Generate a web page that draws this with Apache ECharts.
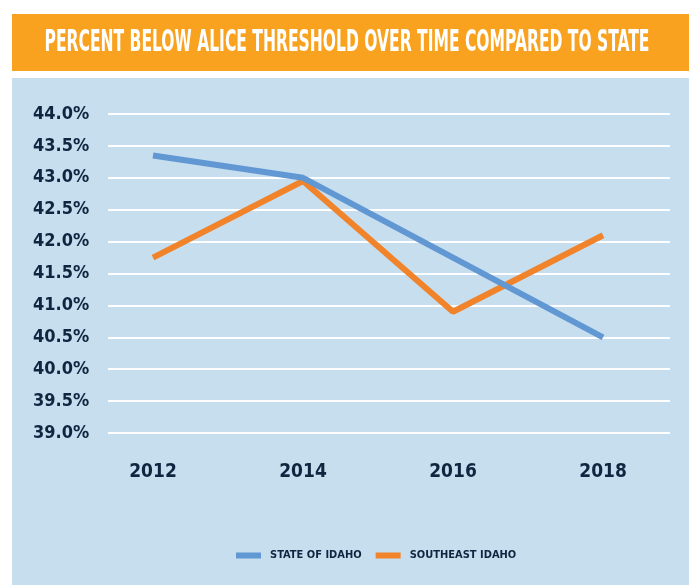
<!DOCTYPE html>
<html>
<head>
<meta charset="utf-8">
<script src="https://cdn.jsdelivr.net/npm/echarts@6/dist/echarts.min.js"></script>
<style>
html,body{margin:0;padding:0;background:#ffffff;}
#chart{width:689px;height:585px;}
</style>
</head>
<body>
<div id="chart"></div>
<script>
var years = [2012, 2014, 2016, 2018];
var stateOfIdaho = [43.35, 43.0, 41.75, 40.5];
var southeastIdaho = [41.75, 42.95, 40.9, 42.1];
var yTicks = [39.0, 39.5, 40.0, 40.5, 41.0, 41.5, 42.0, 42.5, 43.0, 43.5, 44.0];
var seriesNames = ['STATE OF IDAHO', 'SOUTHEAST IDAHO'];
var titleText = 'PERCENT BELOW ALICE THRESHOLD OVER TIME COMPARED TO STATE';

var FONT = '"DejaVu Sans Condensed", "Liberation Sans Narrow", sans-serif';
var NAVY = '#10253f';

function pairs(xs, ys){ return xs.map(function(x,i){ return [x, ys[i]]; }); }

// fit title width (~605px) with horizontal compression
var TITLE_SIZE = 30;
var cv = document.createElement('canvas').getContext('2d');
cv.font = 'bold ' + TITLE_SIZE + 'px ' + FONT;
var titleW = cv.measureText(titleText).width;
var titleScale = Math.min(1, 605 / titleW);

var chart = echarts.init(document.getElementById('chart'));
chart.setOption({
  backgroundColor: '#ffffff',
  animation: false,
  graphic: [
    { type: 'rect', shape: { x: 12, y: 14, width: 677, height: 57 }, style: { fill: '#F9A21F' }, z: -10 },
    { type: 'rect', shape: { x: 12, y: 78, width: 677, height: 507 }, style: { fill: '#C6DEEE' }, z: -10 },
    { type: 'text', x: 347, y: 43, scaleX: titleScale, z: 10,
      style: { text: titleText, fill: '#ffffff', font: 'bold ' + TITLE_SIZE + 'px ' + FONT,
               textAlign: 'center', textVerticalAlign: 'middle' } }
  ],
  legend: {
    data: seriesNames,
    left: 231, top: 545,
    icon: 'rect', itemWidth: 25, itemHeight: 6, itemGap: 14,
    textStyle: { color: NAVY, fontFamily: FONT, fontWeight: 'bold', fontSize: 11, padding: [0,0,0,4] }
  },
  grid: { left: 108, right: 19, top: 114, bottom: 152 },
  xAxis: {
    type: 'value', min: 2011.4, max: 2018.893,
    axisLine: { show: false }, axisTick: { show: false }, splitLine: { show: false },
    axisLabel: {
      customValues: years, margin: 30,
      color: NAVY, fontFamily: FONT, fontWeight: 'bold', fontSize: 19,
      formatter: function(v){ return String(Math.round(v)); }
    }
  },
  yAxis: {
    type: 'value', min: yTicks[0], max: yTicks[yTicks.length-1], interval: 0.5,
    axisLine: { show: false }, axisTick: { show: false },
    splitLine: { lineStyle: { color: '#ffffff', width: 2 } },
    axisLabel: {
      align: 'left', margin: 75, padding: [5,0,0,0],
      color: NAVY, fontFamily: FONT, fontWeight: 'bold', fontSize: 18,
      formatter: function(v){ return v.toFixed(1) + '%'; }
    }
  },
  series: [
    { name: seriesNames[0], type: 'line', data: pairs(years, stateOfIdaho), symbol: 'none', z: 3,
      lineStyle: { color: '#6197D2', width: 6 }, itemStyle: { color: '#6197D2' } },
    { name: seriesNames[1], type: 'line', data: pairs(years, southeastIdaho), symbol: 'none', z: 2,
      lineStyle: { color: '#F1832A', width: 6 }, itemStyle: { color: '#F1832A' } }
  ]
});
</script>
</body>
</html>
